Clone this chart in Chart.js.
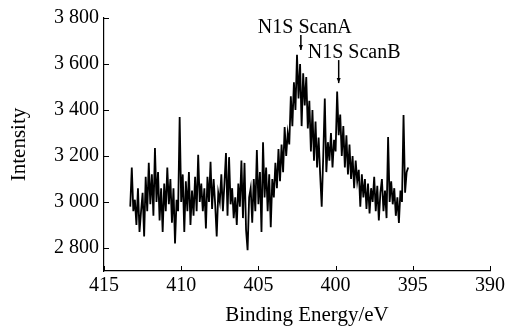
<!DOCTYPE html>
<html>
<head>
<meta charset="utf-8">
<script src="https://cdn.jsdelivr.net/npm/chart.js@4/dist/chart.umd.min.js"></script>
<style>
  html, body { margin: 0; padding: 0; background: #fff; }
  #wrap { width: 508px; height: 330px; }
</style>
</head>
<body>
<div id="wrap"><canvas id="xps"></canvas></div>
<script>
// ── Data (N1s scan, binding energy 413.3 → 395.3 eV, 0.1 eV step) ──
const E_START = 413.3;
const E_STEP = 0.1;

// background before the N1s peaks (413.3 … 403.4)
const preEdge = [
  2980, 3150, 2960, 3010, 2900, 3060, 2870, 2960, 3040, 2850,
  3110, 2960, 3170, 2990, 3120, 2940, 3235, 3000, 3130, 2920,
  3060, 2870, 3080, 2960, 3150, 2990, 3100, 2910, 3060, 2820,
  3010, 2960, 3370, 3000, 3120, 2870, 3090, 2960, 3130, 2900,
  3050, 2940, 3110, 2960, 3205, 3000, 3080, 2960, 3060, 2885,
  3110, 3000, 3175, 2970, 3100, 2990, 2850, 3040, 3000, 3120,
  2960, 3080, 3213, 2940, 3195, 2990, 3060, 2930, 3020, 2900,
  3080, 2980, 3180, 2930, 3170, 2880, 2790, 3020, 3060, 2910,
  3100, 2960, 3226, 2990, 3130, 2870, 3260, 3020, 3150, 2960,
  3120, 2890, 3100, 3020, 3170, 3060, 3230, 3090, 3250, 3130,
];
// main peak, ScanA (403.3 … 400.4)
const peakA = [
  3326, 3200, 3300, 3250, 3460, 3330, 3520, 3400, 3640, 3450,
  3600, 3330, 3560, 3420, 3543, 3320, 3440, 3220, 3400, 3180,
  3350, 3150, 3280, 3120, 2980, 3200, 3450, 3130, 3260, 3180,
];
// shoulder, ScanB (400.3 … 398.4)
const peakB = [
  3300, 3150, 3270, 3220, 3480, 3290, 3380, 3200, 3330, 3150,
  3290, 3120, 3250, 3100, 3200, 3060, 3180, 3090, 3140, 2980,
];
// tail (398.3 … 395.3)
const tail = [
  3120, 3020, 3100, 2970, 3080, 2950, 3060, 3000, 3110, 2960,
  3070, 2920, 3040, 3100, 2960, 3050, 2930, 3283, 3000, 3090,
  2990, 3060, 2940, 3020, 2909, 3050, 3000, 3378, 3040, 3130,
  3150,
];

const xTicks = [415, 410, 405, 400, 395, 390];
const yTicks = [2800, 3000, 3200, 3400, 3600, 3800];

// labelled peaks: energy of arrow, arrow top / tip in intensity units
const peakLabels = [
  { text: 'N1S ScanA', at: 402.25, top: 3726, tip: 3661, dx: 43 },
  { text: 'N1S ScanB', at: 399.8,  top: 3617, tip: 3517, dx: 31 },
];

const intensity = [...preEdge, ...peakA, ...peakB, ...tail];
const points = intensity.map((v, i) => ({ x: +(E_START - i * E_STEP).toFixed(1), y: v }));

const SERIF = '"Liberation Serif", "Times New Roman", serif';
const spaced = v => String(v).replace(/\B(?=(\d{3})+(?!\d))/g, ' ');

// ── inward tick marks, x title, peak annotations ──────────────
const decorations = {
  id: 'decorations',
  afterDraw(chart) {
    const { ctx, chartArea: a, scales: { x, y } } = chart;
    ctx.save();
    ctx.strokeStyle = '#000';
    ctx.lineWidth = 1;
    ctx.beginPath();
    xTicks.forEach(t => {
      const px = Math.round(x.getPixelForValue(t)) + 0.5;
      ctx.moveTo(px, a.bottom); ctx.lineTo(px, a.bottom - 5);
    });
    yTicks.forEach(t => {
      const py = Math.round(y.getPixelForValue(t)) + 0.5;
      ctx.moveTo(a.left, py); ctx.lineTo(a.left + 5, py);
    });
    ctx.stroke();

    ctx.fillStyle = '#000';
    // x axis title sits a little right of the axis centre in the original
    ctx.font = '21px ' + SERIF;
    ctx.textAlign = 'center';
    ctx.textBaseline = 'alphabetic';
    ctx.fillText('Binding Energy/eV', (a.left + a.right) / 2 + 10, 321);

    ctx.font = '20px ' + SERIF;
    ctx.textAlign = 'left';
    peakLabels.forEach(p => {
      const px = x.getPixelForValue(p.at);
      const yTop = y.getPixelForValue(p.top);
      const yTip = y.getPixelForValue(p.tip);
      ctx.lineWidth = 1.5;
      ctx.beginPath();
      ctx.moveTo(px, yTop); ctx.lineTo(px, yTip);
      ctx.stroke();
      ctx.beginPath();
      ctx.moveTo(px - 2, yTip - 5); ctx.lineTo(px + 2, yTip - 5); ctx.lineTo(px, yTip);
      ctx.closePath();
      ctx.fill();
      ctx.fillText(p.text, px - p.dx, yTop - 2);
    });
    ctx.restore();
  }
};

new Chart(document.getElementById('xps'), {
  type: 'line',
  data: {
    datasets: [{
      data: points,
      borderColor: '#000',
      borderWidth: 1.8,
      pointRadius: 0,
      tension: 0,
      fill: false,
    }]
  },
  options: {
    responsive: true, maintainAspectRatio: false,
    animation: false,
    layout: { padding: { top: 18, right: 18, left: 0, bottom: 0 } },
    plugins: { legend: { display: false }, tooltip: { enabled: false } },
    scales: {
      x: {
        type: 'linear', reverse: true, min: 390, max: 415,
        afterBuildTicks: s => { s.ticks = xTicks.map(v => ({ value: v })); },
        afterFit: s => { s.height = 59; },
        grid: { display: false, drawTicks: false },
        border: { display: true, color: '#000', width: 1.2 },
        ticks: { color: '#000', padding: 3, maxRotation: 0, font: { family: SERIF, size: 20 } },
        title: { display: false },
      },
      y: {
        min: 2700, max: 3800,
        afterBuildTicks: s => { s.ticks = yTicks.map(v => ({ value: v })); },
        afterFit: s => { s.width = 104; },
        grid: { display: false, drawTicks: false },
        border: { display: true, color: '#000', width: 1.2 },
        ticks: { color: '#000', padding: 5, callback: v => spaced(v), font: { family: SERIF, size: 20 } },
        title: { display: true, text: 'Intensity', color: '#000', padding: { top: 7, bottom: 0 },
                 font: { family: SERIF, size: 21 } },
      },
    },
  },
  plugins: [decorations],
});
</script>
</body>
</html>
